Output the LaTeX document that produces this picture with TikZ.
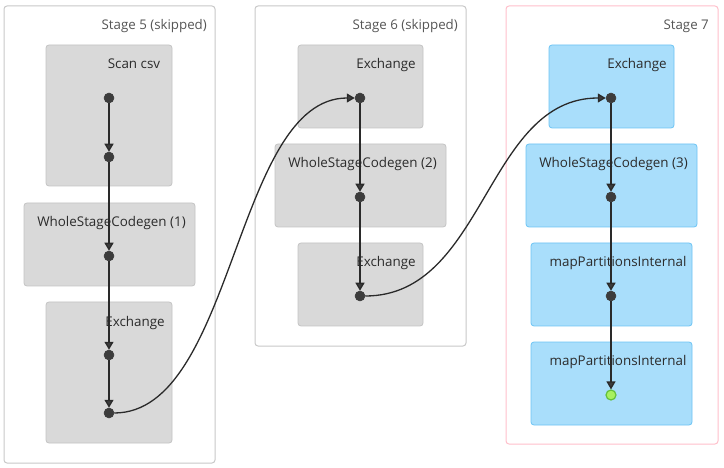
\documentclass[tikz,border=0pt]{standalone}
\usepackage{fontspec}
\setmainfont{Open Sans}
\usetikzlibrary{arrows.meta}
\definecolor{stageborder}{HTML}{C8C8C8}
\definecolor{activeborder}{HTML}{FFC0CB}
\definecolor{grayfill}{HTML}{D9D9D9}
\definecolor{grayline}{HTML}{C4C4C4}
\definecolor{bluefill}{HTML}{A9DEFB}
\definecolor{blueline}{HTML}{6CC4F5}
\definecolor{dotfill}{HTML}{3C3C3C}
\definecolor{edgecol}{HTML}{2A2A2A}
\definecolor{textcol}{HTML}{2B2B2B}
\definecolor{stagetext}{HTML}{555555}
\definecolor{greenfill}{HTML}{A8F060}
\definecolor{greenline}{HTML}{64C03C}
\tikzset{
  stagebox/.style={draw=stageborder, line width=1pt, fill=white, rounded corners=3pt},
  activestage/.style={stagebox, draw=activeborder},
  graybox/.style={draw=grayline, line width=0.8pt, fill=grayfill, rounded corners=3pt},
  bluebox/.style={draw=blueline, line width=0.8pt, fill=bluefill, rounded corners=3pt},
  stagelabel/.style={anchor=mid east, inner sep=0pt, text=stagetext, font=\fontsize{13.3}{16}\selectfont},
  oplabel/.style={anchor=mid, inner sep=0pt, text=textcol, font=\fontsize{13.4}{16}\selectfont},
  dot/.style={circle, fill=dotfill, draw=dotfill, line width=0.5pt, inner sep=0pt, minimum size=10pt},
  enddot/.style={dot, fill=greenfill, draw=greenline, line width=1.2pt},
  flow/.style={draw=edgecol, line width=1.3pt, -{Triangle[length=8pt, width=9pt, fill=dotfill]}},
}
\begin{document}
\begin{tikzpicture}[x=1pt, y=-1pt]
\useasboundingbox (0,0) rectangle (724,468);

% Stage containers
\draw[stagebox] (4,6) rectangle (215,463);
\draw[stagebox] (255,6) rectangle (466,346);
\draw[activestage] (506,6) rectangle (718,444);
\node[stagelabel] (s5) at (207,26.5) {Stage 5 (skipped)};
\node[stagelabel] (s6) at (458,26.5) {Stage 6 (skipped)};
\node[stagelabel] (s7) at (709,26.5) {Stage 7};

% Stage 5 operators
\draw[graybox] (46,45) rectangle (172,186);
\draw[graybox] (24,203) rectangle (195,286);
\draw[graybox] (46,302) rectangle (172,443);
\node[oplabel] (l5a) at (134,65.5) {Scan csv};
\node[oplabel] (l5b) at (111.5,223.5) {WholeStageCodegen (1)};
\node[oplabel] (l5c) at (135,323.5) {Exchange};

% Stage 6 operators
\draw[graybox] (298,45) rectangle (423,128);
\draw[graybox] (275,144) rectangle (446,227);
\draw[graybox] (298,243) rectangle (423,326);
\node[oplabel] (l6a) at (386,65.5) {Exchange};
\node[oplabel] (l6b) at (362.5,164.5) {WholeStageCodegen (2)};
\node[oplabel] (l6c) at (386,263.5) {Exchange};

% Stage 7 operators
\draw[bluebox] (549,45) rectangle (674,128);
\draw[bluebox] (526,144) rectangle (697,227);
\draw[bluebox] (531,243) rectangle (692,326);
\draw[bluebox] (531,342) rectangle (692,425);
\node[oplabel] (l7a) at (637,65.5) {Exchange};
\node[oplabel] (l7b) at (613.5,164.5) {WholeStageCodegen (3)};
\node[oplabel] (l7c) at (618,263.5) {mapPartitionsInternal};
\node[oplabel] (l7d) at (618,362.5) {mapPartitionsInternal};

% RDD dots
\node[dot] (a1) at (109,98) {};
\node[dot] (a2) at (109,157) {};
\node[dot] (a3) at (109,256) {};
\node[dot] (a4) at (109,355) {};
\node[dot] (a5) at (109,413) {};
\node[dot] (b1) at (360,98) {};
\node[dot] (b2) at (360,197) {};
\node[dot] (b3) at (360,296) {};
\node[dot] (c1) at (611,98) {};
\node[dot] (c2) at (611,197) {};
\node[dot] (c3) at (611,296) {};
\node[enddot] (c4) at (611,395) {};

% Edges inside stages
\draw[flow] (a1) -- (a2);
\draw[flow] (a2) -- (a3);
\draw[flow] (a3) -- (a4);
\draw[flow] (a4) -- (a5);
\draw[flow] (b1) -- (b2);
\draw[flow] (b2) -- (b3);
\draw[flow] (c1) -- (c2);
\draw[flow] (c2) -- (c3);
\draw[flow] (c3) -- (c4);

% Edges across stages
\draw[flow] (a5.east) .. controls +(120,0) and +(-120,0) .. (b1.west);
\draw[flow] (b3.east) .. controls +(120,0) and +(-120,0) .. (c1.west);
\end{tikzpicture}
\end{document}
